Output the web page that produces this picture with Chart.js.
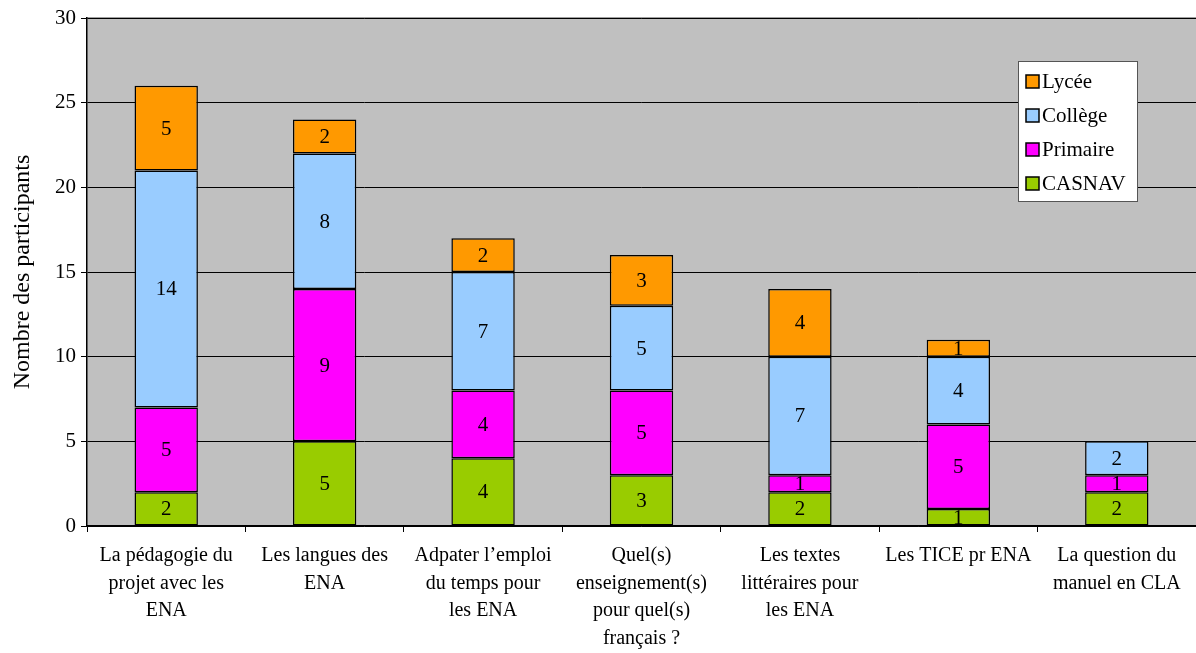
<!DOCTYPE html>
<html>
<head>
<meta charset="utf-8">
<script src="https://cdn.jsdelivr.net/npm/chart.js@4.4.1/dist/chart.umd.min.js"></script>
<style>
  html, body { margin: 0; padding: 0; background: #fff; }
  #wrap { width: 1196px; height: 653px; }
</style>
</head>
<body>
<div id="wrap"><canvas id="graphique"></canvas></div>
<script>
// données
const categories = [
    ['La pédagogie du', 'projet avec les', 'ENA'],
    ['Les langues des', 'ENA'],
    ['Adpater l\u2019emploi', 'du temps pour', 'les ENA'],
    ['Quel(s)', 'enseignement(s)', 'pour quel(s)', 'français ?'],
    ['Les textes', 'littéraires pour', 'les ENA'],
    ['Les TICE pr ENA'],
    ['La question du', 'manuel en CLA']
];
const casnav = [2, 5, 4, 3, 2, 1, 2];
const primaire = [5, 9, 4, 5, 1, 5, 1];
const college = [14, 8, 7, 5, 7, 4, 2];
const lycee = [5, 2, 2, 3, 4, 1, 0];
const yTicks = [0, 5, 10, 15, 20, 25, 30];

const police = '"Liberation Serif", "Times New Roman", serif';

// fond gris de la zone de tracé
const fondGris = {
    id: 'fondGris',
    beforeDraw(chart) {
        const { ctx, chartArea: a } = chart;
        ctx.save();
        ctx.fillStyle = '#c0c0c0';
        ctx.fillRect(a.left, a.top, a.right - a.left, a.bottom - a.top);
        ctx.strokeStyle = '#808080';
        ctx.lineWidth = 1.5;
        ctx.beginPath();
        ctx.moveTo(a.left, a.top);
        ctx.lineTo(a.right, a.top);
        ctx.stroke();
        ctx.restore();
    }
};

// valeurs au centre de chaque segment
const etiquettes = {
    id: 'etiquettes',
    afterDatasetsDraw(chart) {
        const { ctx } = chart;
        ctx.save();
        ctx.font = '21px ' + police;
        ctx.fillStyle = '#000';
        ctx.textAlign = 'center';
        ctx.textBaseline = 'middle';
        chart.data.datasets.forEach((ds, i) => {
            chart.getDatasetMeta(i).data.forEach((bar, j) => {
                const v = ds.data[j];
                if (!v) return;
                const p = bar.getProps(['x', 'y', 'base'], true);
                ctx.fillText(String(v), p.x, (p.y + p.base) / 2 + 1);
            });
        });
        ctx.restore();
    }
};

// légende encadrée, ordre inversé
const legende = {
    id: 'legende',
    afterDraw(chart) {
        const { ctx } = chart;
        const x = 1018, y = 61, w = 119, h = 140;
        ctx.save();
        ctx.fillStyle = '#fff';
        ctx.fillRect(x, y, w, h);
        ctx.strokeStyle = '#555';
        ctx.lineWidth = 1;
        ctx.strokeRect(x + 0.5, y + 0.5, w, h);
        ctx.font = '21px ' + police;
        ctx.textBaseline = 'middle';
        const ds = chart.data.datasets.slice().reverse();
        ds.forEach((d, i) => {
            const cy = y + 20 + i * 34;
            ctx.fillStyle = d.backgroundColor;
            ctx.fillRect(x + 8, cy - 6, 13, 13);
            ctx.strokeStyle = '#000';
            ctx.lineWidth = 1.5;
            ctx.strokeRect(x + 8, cy - 6, 13, 13);
            ctx.fillStyle = '#000';
            ctx.fillText(d.label, x + 24, cy + 1);
        });
        ctx.restore();
    }
};

const serie = (label, data, couleur) => ({
    label, data,
    backgroundColor: couleur,
    borderColor: '#000',
    borderWidth: 1.5,
    borderSkipped: false,
    barPercentage: 0.8,
    categoryPercentage: 0.5
});

new Chart(document.getElementById('graphique'), {
    type: 'bar',
    data: {
        labels: categories,
        datasets: [
            serie('CASNAV', casnav, '#99cc00'),
            serie('Primaire', primaire, '#ff00ff'),
            serie('Collège', college, '#99ccff'),
            serie('Lycée', lycee, '#ff9900')
        ]
    },
    options: {
        responsive: true,
        maintainAspectRatio: false,
        animation: false,
        layout: { padding: { top: 18, right: 0, left: 0, bottom: 0 } },
        plugins: {
            legend: { display: false },
            tooltip: { enabled: false }
        },
        scales: {
            x: {
                stacked: true,
                offset: true,
                grid: {
                    offset: true,
                    drawOnChartArea: false,
                    color: '#000',
                    tickLength: 6,
                    lineWidth: 1
                },
                border: { color: '#000', width: 1.5 },
                ticks: {
                    color: '#000',
                    font: { family: police, size: 20, lineHeight: 1.38 },
                    maxRotation: 0,
                    autoSkip: false,
                    padding: 10
                },
                afterFit(axis) { axis.height = 127; }
            },
            y: {
                stacked: true,
                min: 0,
                max: 30,
                afterBuildTicks(axis) { axis.ticks = yTicks.map(v => ({ value: v })); },
                grid: { color: '#000', lineWidth: 1, tickLength: 6 },
                border: { color: '#000', width: 1.5 },
                ticks: {
                    color: '#000',
                    font: { family: police, size: 21 },
                    padding: 5
                },
                title: {
                    display: true,
                    text: 'Nombre des participants',
                    color: '#000',
                    font: { family: police, size: 24 },
                    padding: { top: 8, bottom: 4 }
                },
                afterFit(axis) { axis.width = 87; }
            }
        }
    },
    plugins: [fondGris, etiquettes, legende]
});
</script>
</body>
</html>
